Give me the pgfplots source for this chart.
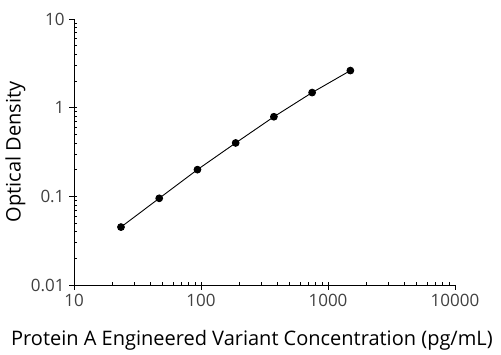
\documentclass[border=0pt]{standalone}
\usepackage{pgfplots}
\pgfplotsset{compat=1.18}
\usepackage{fontspec}
\setmainfont{Open Sans}
\begin{document}
\begin{tikzpicture}
\begin{axis}[
  scale only axis,
  width=381pt, height=266pt,
  xmode=log, ymode=log,
  xmin=10, xmax=10000, ymin=0.01, ymax=10,
  axis x line*=bottom, axis y line*=left,
  axis line style={-, line width=0.8pt},
  xtick={10,100,1000,10000},
  ytick={0.01,0.1,1,10},
  xticklabels={10,100,1000,10000},
  yticklabels={0.01,0.1,1,10},
  tick align=inside,
  major tick length=-5pt,
  minor tick length=3.5pt,
  tick style={black, line width=0.6pt},
  ticklabel style={font=\fontsize{17}{19}\selectfont, text=black!75},
  xticklabel style={anchor=north, yshift=-6pt},
  yticklabel style={anchor=east, xshift=-6pt},
  xlabel={Protein A Engineered Variant Concentration (pg/mL)},
  ylabel={Optical Density},
  label style={font=\fontsize{20}{22}\selectfont},
  xlabel style={at={(axis description cs:0.467,0)}, anchor=base, yshift=-61pt},
  ylabel style={at={(axis description cs:0,0.5)}, anchor=south, yshift=45pt},
  clip=false,
]
\addplot[black, line width=0.9pt, mark=*, mark size=3.4pt] coordinates {
  (23.4375,0.045) (46.875,0.095) (93.75,0.20) (187.5,0.40) (375,0.79) (750,1.48) (1500,2.62)
};
\end{axis}
\path[use as bounding box] (current axis.south west) ++(-74pt,-69pt) rectangle ++(501pt,354pt);
\end{tikzpicture}
\end{document}
